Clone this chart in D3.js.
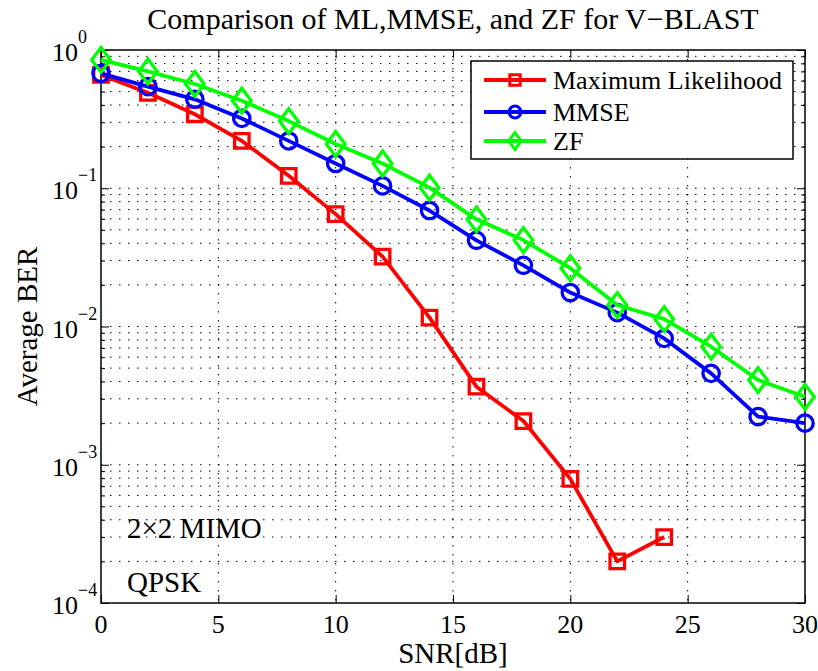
<!DOCTYPE html>
<html>
<head>
<meta charset="utf-8">
<script src="https://cdn.jsdelivr.net/npm/d3@7"></script>
<style>
  body { margin: 0; background: #fff; }
  svg { display: block; }
  text { font-family: "Liberation Serif", "Times New Roman", serif; fill: #000; }
</style>
</head>
<body>
<svg id="chart" width="818" height="671"></svg>
<script>
// ---- data ----
const snrML   = [0, 2, 4, 6, 8, 10, 12, 14, 16, 18, 20, 22, 24];
const berML   = [0.66, 0.49, 0.343, 0.22, 0.123, 0.065, 0.032, 0.0116, 0.00367, 0.00207, 0.00079, 0.0002, 0.0003];
const snrAll  = [0, 2, 4, 6, 8, 10, 12, 14, 16, 18, 20, 22, 24, 26, 28, 30];
const berMMSE = [0.678, 0.543, 0.44, 0.32, 0.22, 0.151, 0.104, 0.069, 0.042, 0.0277, 0.0176, 0.0126, 0.0082, 0.00458, 0.00223, 0.0020];
const berZF   = [0.847, 0.70, 0.568, 0.43, 0.306, 0.209, 0.151, 0.101, 0.0596, 0.0422, 0.0264, 0.0143, 0.0113, 0.00714, 0.0041, 0.0031];
const seriesNames = ["Maximum Likelihood", "MMSE", "ZF"];
const xTicks = [0, 5, 10, 15, 20, 25, 30];
const yExponents = [0, -1, -2, -3, -4];
const titleText = "Comparison of ML,MMSE, and ZF for V\u2212BLAST";
const xLabel = "SNR[dB]";
const yLabel = "Average BER";
const notes = ["2\u00D72 MIMO", "QPSK"];

const series = [
  { name: seriesNames[0], x: snrML,  y: berML,   color: "#ff0000", marker: "square" },
  { name: seriesNames[1], x: snrAll, y: berMMSE, color: "#0000ff", marker: "circle" },
  { name: seriesNames[2], x: snrAll, y: berZF,   color: "#00ff00", marker: "diamond" }
];

// ---- layout ----
const L = 101, R = 805, T = 50, B = 603;
const svg = d3.select("#chart");
const x = d3.scaleLinear().domain([0, 30]).range([L, R]);
const y = d3.scaleLog().domain([1e-4, 1]).range([B, T]);

// grid
const grid = svg.append("g");
const minorVals = [];
for (let e = -4; e < 0; e++) {
  for (let m = 1; m <= 9; m++) minorVals.push(m * Math.pow(10, e));
}
minorVals.push(1);
grid.selectAll("line.h").data(minorVals.filter(v => v > 1e-4 && v < 1)).join("line")
  .attr("x1", L).attr("x2", R)
  .attr("y1", d => y(d)).attr("y2", d => y(d))
  .attr("stroke", "#000").attr("stroke-width", 1).attr("stroke-dasharray", "1.5,7.5");
grid.selectAll("line.v").data(xTicks.filter(v => v > 0 && v < 30)).join("line")
  .attr("y1", T).attr("y2", B)
  .attr("x1", d => x(d)).attr("x2", d => x(d))
  .attr("stroke", "#000").attr("stroke-width", 1).attr("stroke-dasharray", "1.5,7.5");

// axes (ticks inward)
const majorY = yExponents.map(e => Math.pow(10, e));
const minorY = minorVals.filter(v => majorY.indexOf(v) < 0);
function styleAxis(g) { g.select(".domain").remove(); g.selectAll("line").attr("stroke", "#000"); }

svg.append("g").attr("transform", `translate(${L},0)`)
  .call(d3.axisRight(y).tickValues(majorY).tickSize(8).tickFormat(""))
  .call(styleAxis);
svg.append("g").attr("transform", `translate(${L},0)`)
  .call(d3.axisRight(y).tickValues(minorY).tickSize(4).tickFormat(""))
  .call(styleAxis);
svg.append("g").attr("transform", `translate(${R},0)`)
  .call(d3.axisLeft(y).tickValues(majorY).tickSize(8).tickFormat(""))
  .call(styleAxis);
svg.append("g").attr("transform", `translate(${R},0)`)
  .call(d3.axisLeft(y).tickValues(minorY).tickSize(4).tickFormat(""))
  .call(styleAxis);
svg.append("g").attr("transform", `translate(0,${B})`)
  .call(d3.axisTop(x).tickValues(xTicks).tickSize(8).tickFormat(""))
  .call(styleAxis);
svg.append("g").attr("transform", `translate(0,${T})`)
  .call(d3.axisBottom(x).tickValues(xTicks).tickSize(8).tickFormat(""))
  .call(styleAxis);

// frame
svg.append("rect").attr("x", L).attr("y", T).attr("width", R - L).attr("height", B - T)
  .attr("fill", "none").attr("stroke", "#000").attr("stroke-width", 1.5);

// x tick labels
svg.append("g").selectAll("text").data(xTicks).join("text")
  .attr("x", d => x(d)).attr("y", B + 30)
  .attr("text-anchor", "middle").attr("font-size", 26)
  .text(d => d);

// y tick labels with superscripts
const yl = svg.append("g").selectAll("text").data(yExponents).join("text")
  .attr("x", 52).attr("y", d => y(Math.pow(10, d)) + 11)
  .attr("font-size", 26);
yl.append("tspan").text("10");
yl.append("tspan").attr("dy", -18).attr("font-size", 18)
  .text(d => d === 0 ? "0" : "\u2212" + Math.abs(d));

// series
const line = d3.line().x(d => x(d[0])).y(d => y(d[1]));
const sym = { square: d3.symbolSquare, circle: d3.symbolCircle, diamond: d3.symbolDiamond };
const symSize = { square: 210, circle: 210, diamond: 240 };
function drawMarker(g, type, size) {
  if (type === "diamond") {
    const h = Math.sqrt(size) * 0.8;
    const w = h * 0.75;
    g.append("path").attr("d", `M0,${-h}L${w},0L0,${h}L${-w},0Z`);
  } else {
    g.append("path").attr("d", d3.symbol().type(sym[type]).size(size)());
  }
}
series.forEach(s => {
  const pts = s.x.map((v, i) => [v, s.y[i]]);
  svg.append("path").datum(pts).attr("d", line)
    .attr("fill", "none").attr("stroke", s.color).attr("stroke-width", 3.8)
    .attr("stroke-linejoin", "round");
  const mg = svg.append("g").attr("fill", "none").attr("stroke", s.color).attr("stroke-width", 3.3);
  pts.forEach(p => {
    const g = mg.append("g").attr("transform", `translate(${x(p[0])},${y(p[1])})`);
    drawMarker(g, s.marker, symSize[s.marker]);
  });
});

// legend
const lg = svg.append("g");
lg.append("rect").attr("x", 471).attr("y", 61).attr("width", 322).attr("height", 98)
  .attr("fill", "#fff").attr("stroke", "#000").attr("stroke-width", 1.5);
const legY = [80, 112, 141];
series.forEach((s, i) => {
  lg.append("line").attr("x1", 484).attr("x2", 546).attr("y1", legY[i]).attr("y2", legY[i])
    .attr("stroke", s.color).attr("stroke-width", 3.8);
  const g = lg.append("g").attr("transform", `translate(515,${legY[i]})`)
    .attr("fill", "none").attr("stroke", s.color).attr("stroke-width", 3);
  drawMarker(g, s.marker, 110);
  lg.append("text").attr("x", 553).attr("y", legY[i] + 9).attr("font-size", 26).text(s.name);
});

// annotations
svg.append("text").attr("x", 127).attr("y", 538).attr("font-size", 29).text(notes[0]);
svg.append("text").attr("x", 127).attr("y", 592).attr("font-size", 29).text(notes[1]);

// titles
svg.append("text").attr("x", (L + R) / 2).attr("y", 29).attr("text-anchor", "middle")
  .attr("font-size", 30).text(titleText);
svg.append("text").attr("x", (L + R) / 2).attr("y", 663).attr("text-anchor", "middle")
  .attr("font-size", 29).text(xLabel);
svg.append("text").attr("transform", `translate(37,${(T + B) / 2}) rotate(-90)`)
  .attr("text-anchor", "middle").attr("font-size", 29).text(yLabel);
</script>
</body>
</html>
